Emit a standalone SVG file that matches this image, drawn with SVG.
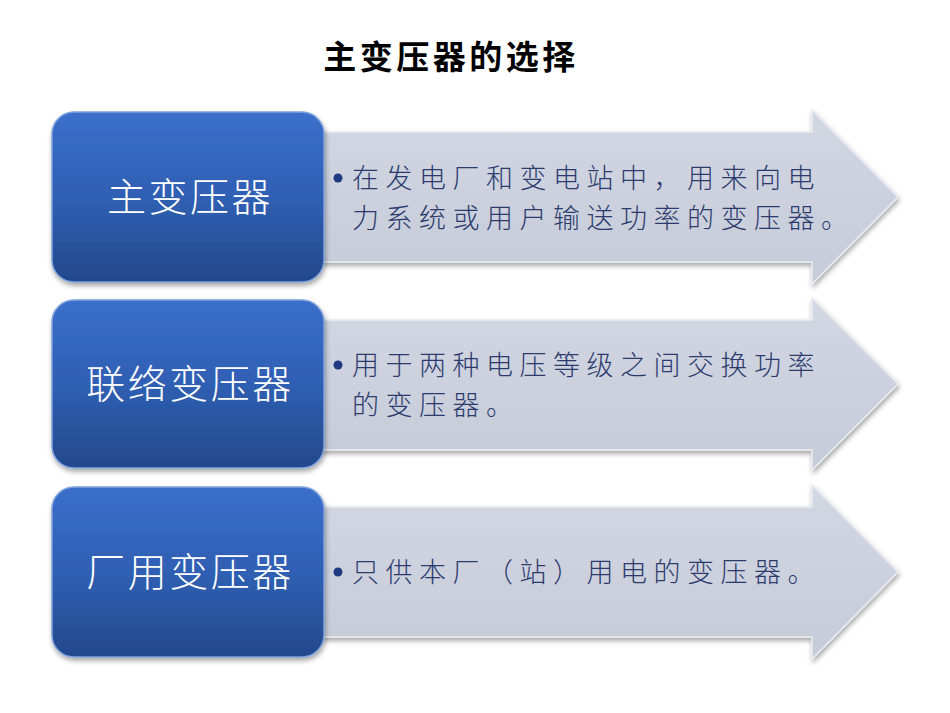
<svg xmlns="http://www.w3.org/2000/svg" width="950" height="713" viewBox="0 0 950 713">
<defs>
<linearGradient id="blue" x1="0" y1="0" x2="0" y2="1">
<stop offset="0" stop-color="#3b6fcb"/>
<stop offset="0.5" stop-color="#2f5fb3"/>
<stop offset="1" stop-color="#23498c"/>
</linearGradient>
<linearGradient id="grey" x1="0" y1="0" x2="0" y2="1">
<stop offset="0" stop-color="#d3d7e2"/>
<stop offset="1" stop-color="#c6cbd9"/>
</linearGradient>
<filter id="sh" x="-10%" y="-10%" width="120%" height="125%">
<feDropShadow dx="1" dy="3" stdDeviation="2.5" flood-color="#000" flood-opacity="0.35"/>
</filter>
</defs>
<style>
.box{fill:url(#blue);stroke:#7fa2dc;stroke-width:1.5;filter:url(#sh)}
.arrow{fill:url(#grey);stroke:#e8ebf2;stroke-width:1.5;filter:url(#sh)}
.lbl{font-family:"Noto Sans CJK SC","Noto Sans CJK JP",sans-serif;font-size:39px;letter-spacing:2.5px;fill:#ffffff;text-anchor:middle;font-weight:300}
.txt{font-family:"Noto Sans CJK SC","Noto Sans CJK JP",sans-serif;font-size:27px;letter-spacing:6.5px;fill:#2b3b6e;font-weight:300}
.dot{fill:#1f3a80}
.title{font-family:"Noto Sans CJK SC","Noto Sans CJK JP",sans-serif;font-size:33px;letter-spacing:3.5px;font-weight:bold;fill:#000;text-anchor:middle}
</style>
<rect width="950" height="713" fill="#ffffff"/>
<text class="title" x="451" y="69">主变压器的选择</text>
<g id="row1">
<path class="arrow" d="M312,132 H812 V110 L898,197 L812,284 V262 H312 Z"/>
<rect class="box" x="52" y="112" width="272" height="170" rx="22"/>
<text class="lbl" x="190" y="211">主变压器</text>
<circle class="dot" cx="338" cy="178" r="4.5"/>
<text class="txt" x="352" y="188">在发电厂和变电站中，用来向电</text>
<text class="txt" x="352" y="228">力系统或用户输送功率的变压器。</text>
</g>
<g id="row2">
<path class="arrow" d="M312,320 H812 V298 L898,384 L812,470 V450 H312 Z"/>
<rect class="box" x="52" y="300" width="272" height="168" rx="22"/>
<text class="lbl" x="190" y="398">联络变压器</text>
<circle class="dot" cx="338" cy="365" r="4.5"/>
<text class="txt" x="352" y="375">用于两种电压等级之间交换功率</text>
<text class="txt" x="352" y="415">的变压器。</text>
</g>
<g id="row3">
<path class="arrow" d="M312,507 H812 V485 L898,572 L812,659 V637 H312 Z"/>
<rect class="box" x="52" y="487" width="272" height="170" rx="22"/>
<text class="lbl" x="190" y="586">厂用变压器</text>
<circle class="dot" cx="338" cy="572" r="4.5"/>
<text class="txt" x="352" y="582">只供本厂（站）用电的变压器。</text>
</g>
<g id="connectors"></g>
</svg>
